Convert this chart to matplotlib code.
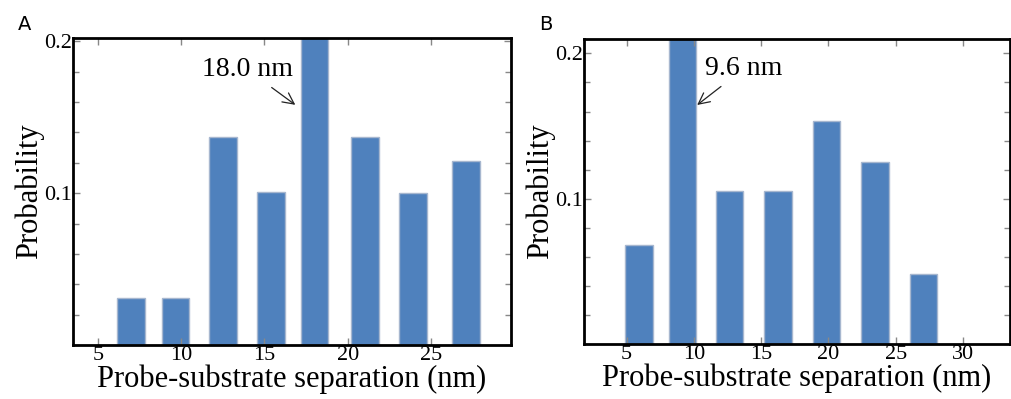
import numpy as np
import matplotlib
matplotlib.use('Agg')
import matplotlib.pyplot as plt
from matplotlib.ticker import FixedLocator, MultipleLocator

plt.rcParams['font.family'] = ['Liberation Serif', 'DejaVu Serif']

# panel A
sep_a = [7.0, 9.65, 12.5, 15.4, 18.0, 21.05, 23.9, 27.1]
prob_a = [0.031, 0.031, 0.137, 0.101, 0.205, 0.137, 0.100, 0.121]
# panel B
sep_b = [5.9, 9.15, 12.65, 16.25, 19.85, 23.45, 27.05]
prob_b = [0.068, 0.215, 0.105, 0.105, 0.1535, 0.1255, 0.048]

xticks_a = [5, 10, 15, 20, 25]
xticks_b = [5, 10, 15, 20, 25, 30]
yticks = [0.1, 0.2]

bar_col = '#4f81bd'
edge_col = '#a7b7cf'

fig = plt.figure(figsize=(10.12, 3.99), dpi=100)
axA = fig.add_axes([0.0721, 0.1353, 0.4328, 0.7694])
axB = fig.add_axes([0.5771, 0.1378, 0.4210, 0.7637])


def style(ax, xt, xlim, ylim):
    ax.set_xlim(*xlim)
    ax.set_ylim(*ylim)
    ax.set_xticks(xt)
    ax.set_yticks(yticks)
    ax.set_yticklabels(['0.1', '0.2'])
    ax.yaxis.set_minor_locator(MultipleLocator(0.02))
    ax.tick_params(which='both', direction='in', top=True, right=True,
                   color='#888888', labelsize=16, pad=1)
    ax.tick_params(which='major', length=5, width=1)
    ax.tick_params(which='minor', length=4, width=1)
    for s in ax.spines.values():
        s.set_linewidth(2)
        s.set_color('black')
    ax.set_xlabel('Probe-substrate separation (nm)', fontsize=22, labelpad=-1)
    ax.set_ylabel('Probability', fontsize=22, labelpad=0)


axA.bar(sep_a, prob_a, width=1.66, color=bar_col, edgecolor=edge_col, linewidth=1)
style(axA, xticks_a, (3.5, 29.8), (0, 0.2022))
axA.annotate('18.0 nm', xy=(16.85, 0.1582), xytext=(13.98, 0.1813),
             fontsize=20, ha='center', va='center',
             arrowprops=dict(arrowstyle='->', color='#222222', lw=0.9,
                             shrinkA=3, shrinkB=0))

axB.bar(sep_b, prob_b, width=2.04, color=bar_col, edgecolor=edge_col, linewidth=1)
style(axB, xticks_b, (1.83, 33.5), (0, 0.2097))
axB.annotate('9.6 nm', xy=(10.24, 0.1645), xytext=(13.72, 0.1895),
             fontsize=20, ha='center', va='center',
             arrowprops=dict(arrowstyle='->', color='#222222', lw=0.9,
                             shrinkA=3, shrinkB=0))

fig.text(25 / 1012, 1 - 25 / 399, 'A', fontsize=14, family='DejaVu Sans',
         ha='center', va='center')
fig.text(546 / 1012, 1 - 25 / 399, 'B', fontsize=14, family='DejaVu Sans',
         ha='center', va='center')

fig.savefig('out.png', dpi=100)
